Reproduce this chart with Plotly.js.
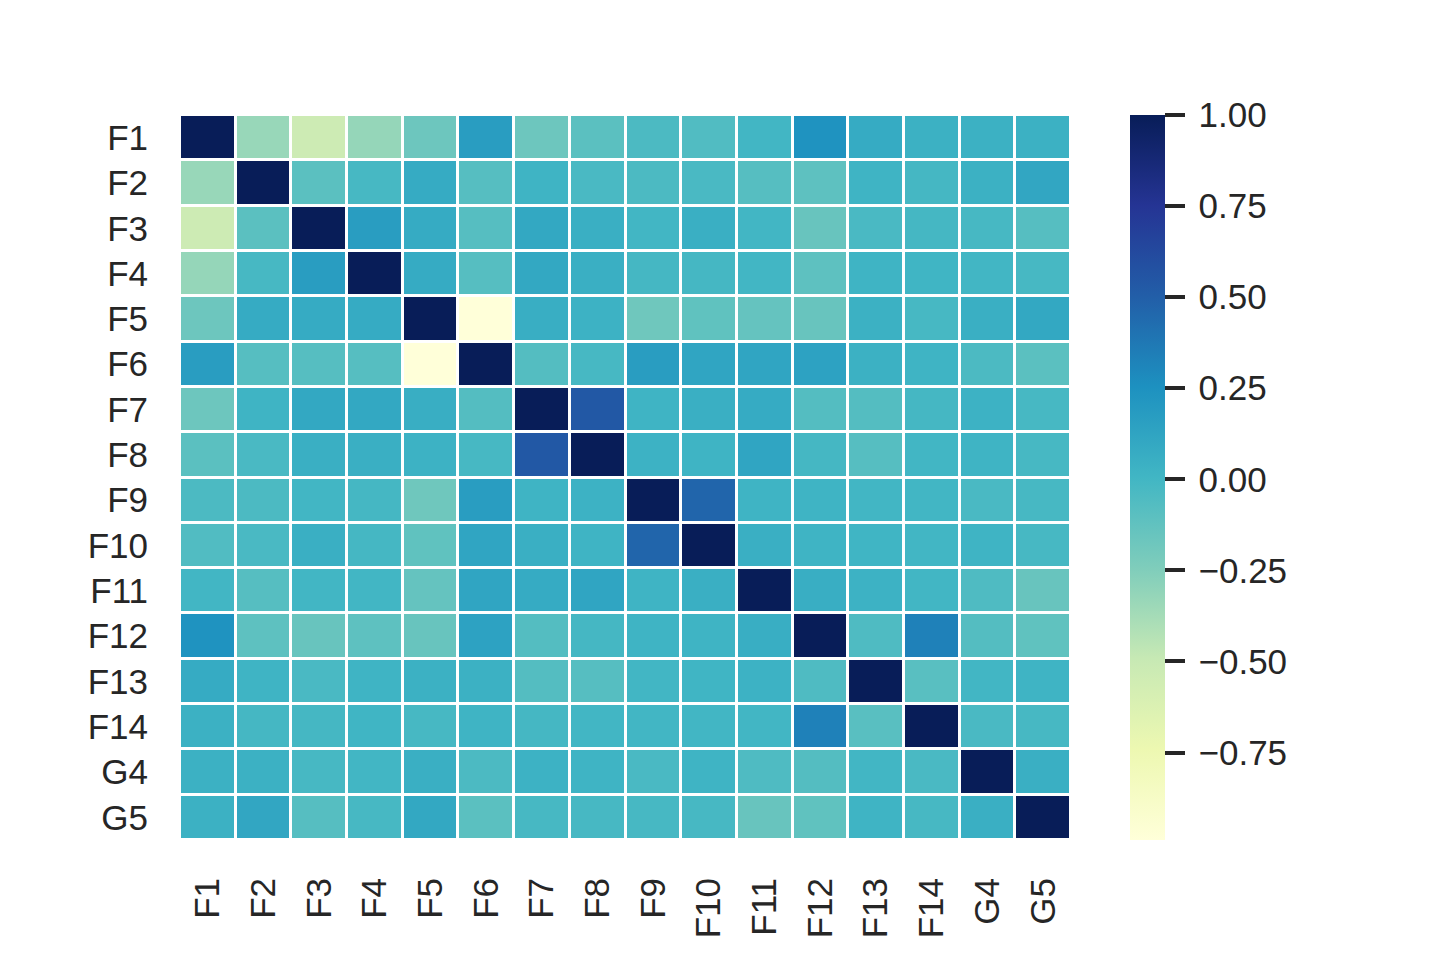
<!DOCTYPE html>
<html>
<head>
<meta charset="utf-8">
<script src="https://cdn.plot.ly/plotly-3.0.1.min.js"></script>
<style>html,body{margin:0;padding:0;background:#fff;}#chart{width:1440px;height:960px;}</style>
</head>
<body>
<div id="chart"></div>
<script>
const labels = ["F1","F2","F3","F4","F5","F6","F7","F8","F9","F10","F11","F12","F13","F14","G4","G5"];

const rowF1  = [1.00,-0.33,-0.53,-0.32,-0.17,0.17,-0.17,-0.10,-0.04,-0.06,0.00,0.24,0.08,0.04,0.04,0.04];
const rowF2  = [-0.33,1.00,-0.10,-0.02,0.08,-0.08,0.02,-0.03,-0.04,-0.03,-0.08,-0.11,0.02,-0.01,0.04,0.11];
const rowF3  = [-0.53,-0.10,1.00,0.17,0.08,-0.08,0.10,0.05,0.00,0.05,0.00,-0.15,-0.03,-0.01,-0.02,-0.08];
const rowF4  = [-0.32,-0.02,0.17,1.00,0.08,-0.08,0.10,0.05,-0.01,-0.01,0.00,-0.11,0.02,0.01,0.00,-0.02];
const rowF5  = [-0.17,0.08,0.08,0.08,1.00,-0.99,0.06,0.03,-0.18,-0.12,-0.14,-0.15,0.04,-0.02,0.05,0.10];
const rowF6  = [0.17,-0.08,-0.08,-0.08,-0.99,1.00,-0.07,-0.02,0.17,0.12,0.12,0.14,0.04,0.02,-0.04,-0.10];
const rowF7  = [-0.17,0.02,0.10,0.10,0.06,-0.07,1.00,0.54,0.02,0.05,0.08,-0.07,-0.07,-0.01,0.03,-0.02];
const rowF8  = [-0.10,-0.03,0.05,0.05,0.03,-0.02,0.54,1.00,0.03,0.02,0.12,-0.01,-0.08,0.00,0.02,-0.02];
const rowF9  = [-0.04,-0.04,0.00,-0.01,-0.18,0.17,0.02,0.03,1.00,0.47,0.02,0.02,0.00,0.00,-0.03,-0.02];
const rowF10 = [-0.06,-0.03,0.05,-0.01,-0.12,0.12,0.05,0.02,0.47,1.00,0.05,0.02,0.01,0.00,0.02,-0.02];
const rowF11 = [0.00,-0.08,0.00,0.00,-0.14,0.12,0.08,0.12,0.02,0.05,1.00,0.06,0.03,0.00,-0.05,-0.15];
const rowF12 = [0.24,-0.11,-0.15,-0.11,-0.15,0.14,-0.07,-0.01,0.02,0.02,0.06,1.00,-0.05,0.33,-0.07,-0.12];
const rowF13 = [0.08,0.02,-0.03,0.02,0.04,0.04,-0.07,-0.08,0.00,0.01,0.03,-0.05,1.00,-0.09,0.00,0.02];
const rowF14 = [0.04,-0.01,-0.01,0.01,-0.02,0.02,-0.01,0.00,0.00,0.00,0.00,0.33,-0.09,1.00,-0.03,-0.02];
const rowG4  = [0.04,0.04,-0.02,0.00,0.05,-0.04,0.03,0.02,-0.03,0.02,-0.05,-0.07,0.00,-0.03,1.00,0.05];
const rowG5  = [0.04,0.11,-0.08,-0.02,0.10,-0.10,-0.02,-0.02,-0.02,-0.02,-0.15,-0.12,0.02,-0.02,0.05,1.00];

const cbTickVals = [-0.75,-0.5,-0.25,0,0.25,0.5,0.75,1.0];
const cbTickText = ["\u2009\u22120.75","\u2009\u22120.50","\u2009\u22120.25","\u20090.00","\u20090.25","\u20090.50","\u20090.75","\u20091.00"];

const z = [rowF1,rowF2,rowF3,rowF4,rowF5,rowF6,rowF7,rowF8,rowF9,rowF10,rowF11,rowF12,rowF13,rowF14,rowG4,rowG5];

const ylgnbu = [
  [0.000,'#ffffd9'],[0.125,'#edf8b1'],[0.250,'#c7e9b4'],[0.375,'#7fcdbb'],
  [0.500,'#41b6c4'],[0.625,'#1d91c0'],[0.750,'#225ea8'],[0.875,'#253494'],[1.000,'#081d58']
];

const fontFam = 'Liberation Sans, Arial, Helvetica, sans-serif';
const txtCol = '#262626';
const fs = 35;

const trace = {
  type: 'heatmap',
  z: z, x: labels, y: labels,
  colorscale: ylgnbu,
  xgap: 3, ygap: 3,
  hoverongaps: false,
  colorbar: {
    x: 1.0662, xanchor: 'left', xpad: 0, ypad: 0,
    y: 0.5, yanchor: 'middle', len: 1, lenmode: 'fraction',
    thickness: 35, outlinewidth: 0,
    tickmode: 'array', tickvals: cbTickVals, ticktext: cbTickText,
    ticks: 'outside', ticklen: 20, tickwidth: 3.5, tickcolor: txtCol,
    tickfont: {family: fontFam, size: fs, color: txtCol}
  }
};

const layout = {
  width: 1440, height: 960,
  margin: {l: 180, r: 369, t: 115, b: 120, pad: 0},
  paper_bgcolor: '#ffffff', plot_bgcolor: '#ffffff',
  font: {family: fontFam, size: fs, color: txtCol},
  xaxis: {
    type: 'category', tickangle: -90, showgrid: false, zeroline: false, showline: false,
    ticks: '', ticklabelstandoff: 30,
    tickfont: {family: fontFam, size: fs, color: txtCol}
  },
  yaxis: {
    type: 'category', autorange: 'reversed', showgrid: false, zeroline: false, showline: false,
    ticks: '', ticklabelstandoff: 31,
    tickfont: {family: fontFam, size: fs, color: txtCol}
  }
};

Plotly.newPlot('chart', [trace], layout, {displayModeBar: false, responsive: false});
</script>
</body>
</html>
